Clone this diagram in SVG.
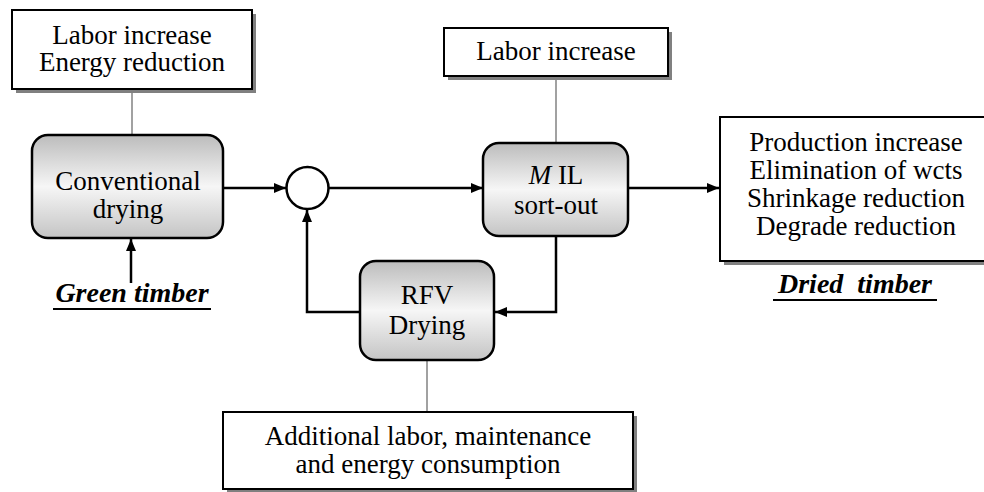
<svg xmlns="http://www.w3.org/2000/svg" width="984" height="492" viewBox="0 0 984 492">
<defs>
<linearGradient id="g" x1="0" y1="0" x2="0" y2="1">
<stop offset="0" stop-color="#bcbcbc"/>
<stop offset="0.5" stop-color="#f6f6f6"/>
<stop offset="1" stop-color="#c4c4c4"/>
</linearGradient>
<marker id="ah" viewBox="0 0 12 10" refX="12" refY="5" markerWidth="12" markerHeight="10" markerUnits="userSpaceOnUse" orient="auto">
<path d="M0,0 L12,5 L0,10 Z" fill="#000"/>
</marker>
</defs>
<style>
text{font-family:'Liberation Serif','Times New Roman',Times,serif;font-size:27px;fill:#000;text-anchor:middle}
.lbl{font-weight:bold;font-style:italic;font-size:28px}
.box{fill:#fff;stroke:#000;stroke-width:2}
.shadow{fill:#808080}
.proc{fill:url(#g);stroke:#000;stroke-width:2.5}
.gray{stroke:#8a8a8a;stroke-width:1.6;fill:none}
.arr{stroke:#000;stroke-width:2.5;fill:none;marker-end:url(#ah)}
.ul{stroke:#000;stroke-width:2}
</style>
<g id="connectors">
<line class="gray" x1="132" y1="89" x2="132" y2="135"/>
<line class="gray" x1="556" y1="76" x2="556" y2="143"/>
<line class="gray" x1="427" y1="360" x2="427" y2="412"/>
<line class="arr" x1="223" y1="188" x2="286" y2="188"/>
<line class="arr" x1="131" y1="283" x2="131" y2="239"/>
<line class="arr" x1="329" y1="188" x2="483" y2="188"/>
<line class="arr" x1="628" y1="188" x2="719" y2="188"/>
<polyline class="arr" points="556,236 556,312 495,312"/>
<polyline class="arr" points="360,312 307,312 307,210"/>
</g>
<g id="box-conv-effects">
<rect class="shadow" x="16" y="14" width="240" height="79"/>
<rect class="box" x="12" y="10" width="240" height="79"/>
<text x="132" y="44">Labor increase</text>
<text x="132" y="71">Energy reduction</text>
</g>
<g id="conventional-drying">
<rect class="proc" x="32" y="135" width="191" height="103" rx="16"/>
<text x="128" y="190">Conventional</text>
<text x="128" y="218">drying</text>
</g>
<g id="green-timber">
<text class="lbl" x="132" y="302">Green timber</text>
<line class="ul" x1="53" y1="309" x2="211" y2="309"/>
</g>
<g id="junction">
<circle cx="307.5" cy="188" r="21" fill="#fff" stroke="#000" stroke-width="2.5"/>
</g>
<g id="box-mil-effects">
<rect class="shadow" x="448" y="32" width="224" height="48"/>
<rect class="box" x="444" y="28" width="224" height="48"/>
<text x="556" y="60">Labor increase</text>
</g>
<g id="mil-sort-out">
<rect class="proc" x="483" y="143" width="145" height="93" rx="16"/>
<text x="556" y="184"><tspan font-style="italic">M</tspan> IL</text>
<text x="556" y="214">sort-out</text>
</g>
<g id="rfv-drying">
<rect class="proc" x="360" y="261" width="134" height="99" rx="16"/>
<text x="427" y="304">RFV</text>
<text x="427" y="334">Drying</text>
</g>
<g id="box-rfv-effects">
<rect class="shadow" x="227" y="416" width="410" height="77"/>
<rect class="box" x="223" y="412" width="410" height="77"/>
<text x="428" y="445">Additional labor, maintenance</text>
<text x="428" y="473">and energy consumption</text>
</g>
<g id="box-output">
<rect class="shadow" x="724" y="121" width="270" height="144"/>
<rect class="box" x="720" y="117" width="270" height="144"/>
<text x="856" y="151">Production increase</text>
<text x="856" y="179">Elimination of wcts</text>
<text x="856" y="207">Shrinkage reduction</text>
<text x="856" y="235">Degrade reduction</text>
</g>
<g id="dried-timber">
<text class="lbl" x="855" y="293" xml:space="preserve">Dried  timber</text>
<line class="ul" x1="773" y1="300" x2="937" y2="300"/>
</g>
</svg>
